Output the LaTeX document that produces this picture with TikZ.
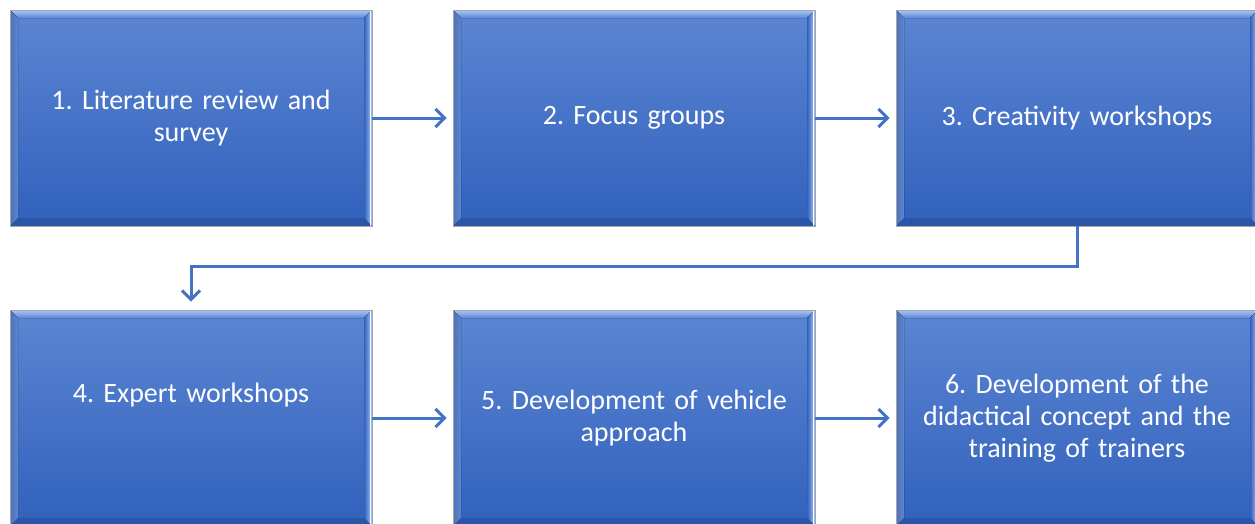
\documentclass[tikz,border=0pt]{standalone}
\usepackage{fontspec}
\setmainfont{Carlito}
\usetikzlibrary{arrows.meta}

\definecolor{stepblue}{HTML}{4472C4}
\definecolor{boxtop}{HTML}{5C86D3}
\definecolor{boxbot}{HTML}{3161BC}
\definecolor{bevellight}{HTML}{A9C6F7}
\definecolor{beveldark}{HTML}{2A55A8}

\tikzset{
    stepbox/.style={draw=gray!70, line width=0.8pt, minimum width=362pt, minimum height=216pt,
        inner sep=0pt, top color=boxtop, bottom color=boxbot, text=white,
        text width=345pt, align=center, font=\fontsize{28}{32}\selectfont,
        path picture={
            \coordinate (nw) at (path picture bounding box.north west);
            \coordinate (ne) at (path picture bounding box.north east);
            \coordinate (sw) at (path picture bounding box.south west);
            \coordinate (se) at (path picture bounding box.south east);
            % bevel edges
            \fill[top color=bevellight, bottom color=boxtop] (nw) -- (ne) -- ([shift={(-8pt,-8pt)}]ne) -- ([shift={(8pt,-8pt)}]nw) -- cycle;
            \fill[left color=boxbot, right color=bevellight] (ne) -- (se) -- ([shift={(-8pt,8pt)}]se) -- ([shift={(-8pt,-8pt)}]ne) -- cycle;
            \fill[beveldark] (sw) -- (se) -- ([shift={(-8pt,8pt)}]se) -- ([shift={(8pt,8pt)}]sw) -- cycle;
            \fill[left color=boxtop!85!black, right color=boxtop] (nw) -- (sw) -- ([shift={(8pt,8pt)}]sw) -- ([shift={(8pt,-8pt)}]nw) -- cycle;
            \draw[white, line width=1.2pt] ([xshift=-1.5pt]ne) -- ([xshift=-1.5pt]se);
        }},
    flow/.style={stepblue, line width=3pt, -{Straight Barb[length=9pt, width=18pt, line width=3pt]}}
}

\frenchspacing
\begin{document}
\begin{tikzpicture}[x=1pt, y=-1pt]
    \useasboundingbox (0,0) rectangle (1255,523);

    % first row
    \node[stepbox] (b1) at (191,118) {1. Literature review and\\survey};
    \node[stepbox] (b2) at (634,118) {2. Focus groups};
    \node[stepbox] (b3) at (1077,118) {3. Creativity workshops};

    % second row
    \node[stepbox] (b4) at (191,418) {4. Expert workshops\\[18pt]\mbox{}};
    \node[stepbox] (b5) at (634,418) {5. Development of vehicle\\approach};
    \node[stepbox] (b6) at (1077,418) {6. Development of the\\didactical concept and the\\training of trainers};

    \draw[flow, shorten >=6pt] (b1) -- (b2);
    \draw[flow, shorten >=6pt] (b2) -- (b3);
    \draw[flow, shorten >=6pt] (b4) -- (b5);
    \draw[flow, shorten >=6pt] (b5) -- (b6);
    \draw[flow, shorten >=8pt] (b3.south) -- ++(0,40) -| (b4.north);
\end{tikzpicture}
\end{document}
